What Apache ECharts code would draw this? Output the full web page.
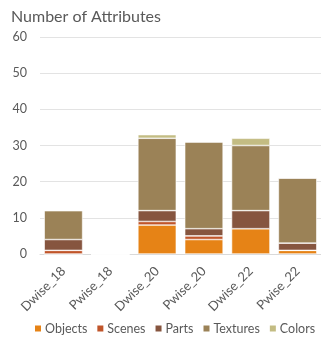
<!DOCTYPE html>
<html><head><meta charset="utf-8">
<script src="https://cdn.jsdelivr.net/npm/echarts@6/dist/echarts.min.js"></script>
<style>html,body{margin:0;padding:0;background:#fff;}#c{width:321px;height:337px;}</style>
</head><body><div id="c"></div>
<script>
const categories = ['Dwise_18','Pwise_18','Dwise_20','Pwise_20','Dwise_22','Pwise_22'];
const objects  = [0, 0, 8, 4, 7, 1];
const scenes   = [1, 0, 1, 1, 0, 0];
const parts    = [3, 0, 3, 2, 5, 2];
const textures = [8, 0, 20, 24, 18, 18];
const colorsV  = [0, 0, 1, 0, 2, 0];
const yTicks = [0, 10, 20, 30, 40, 50, 60];

const names = ['Objects','Scenes','Parts','Textures','Colors'];
const palette = ['#E68316','#C0552A','#86553F','#9B8257','#C3BC83'];
const dataSets = [objects, scenes, parts, textures, colorsV];
const font = 'Lato, "Open Sans", sans-serif';

const chart = echarts.init(document.getElementById('c'), null, {renderer:'canvas'});
chart.setOption({
  animation:false,
  textStyle:{fontFamily:font},
  title:{text:'Number of Attributes', left:6, top:4,
    textStyle:{fontFamily:font, fontSize:16, fontWeight:'normal', color:'#595959'}},
  legend:{top:322, left:28, width:300, padding:[0,0,0,5], itemWidth:8, itemHeight:8, itemGap:8, icon:'rect',
    textStyle:{fontFamily:font, fontSize:12.5, color:'#595959', padding:[0,0,0,-2]},
    data:names},
  grid:{left:40, right:-3, top:37, bottom:83},
  xAxis:{type:'category', data:categories,
    axisLine:{lineStyle:{color:'#D9D9D9'}}, axisTick:{show:false},
    axisLabel:{rotate:45, color:'#595959', fontSize:13, fontFamily:font, margin:15, interval:0}},
  yAxis:{type:'value', min:0, max:60, interval:10,
    axisLine:{show:false}, axisTick:{show:false},
    splitLine:{lineStyle:{color:'#E3E3E3', width:1}},
    axisLabel:{color:'#595959', fontSize:12.5, fontFamily:font, margin:13}},
  series: names.map((n,i)=>({
    name:n, type:'bar', stack:'a', data:dataSets[i], barCategoryGap:'18%',
    itemStyle:{color:palette[i], borderColor:'#ffffff', borderWidth:0.6}
  }))
});
</script></body></html>
